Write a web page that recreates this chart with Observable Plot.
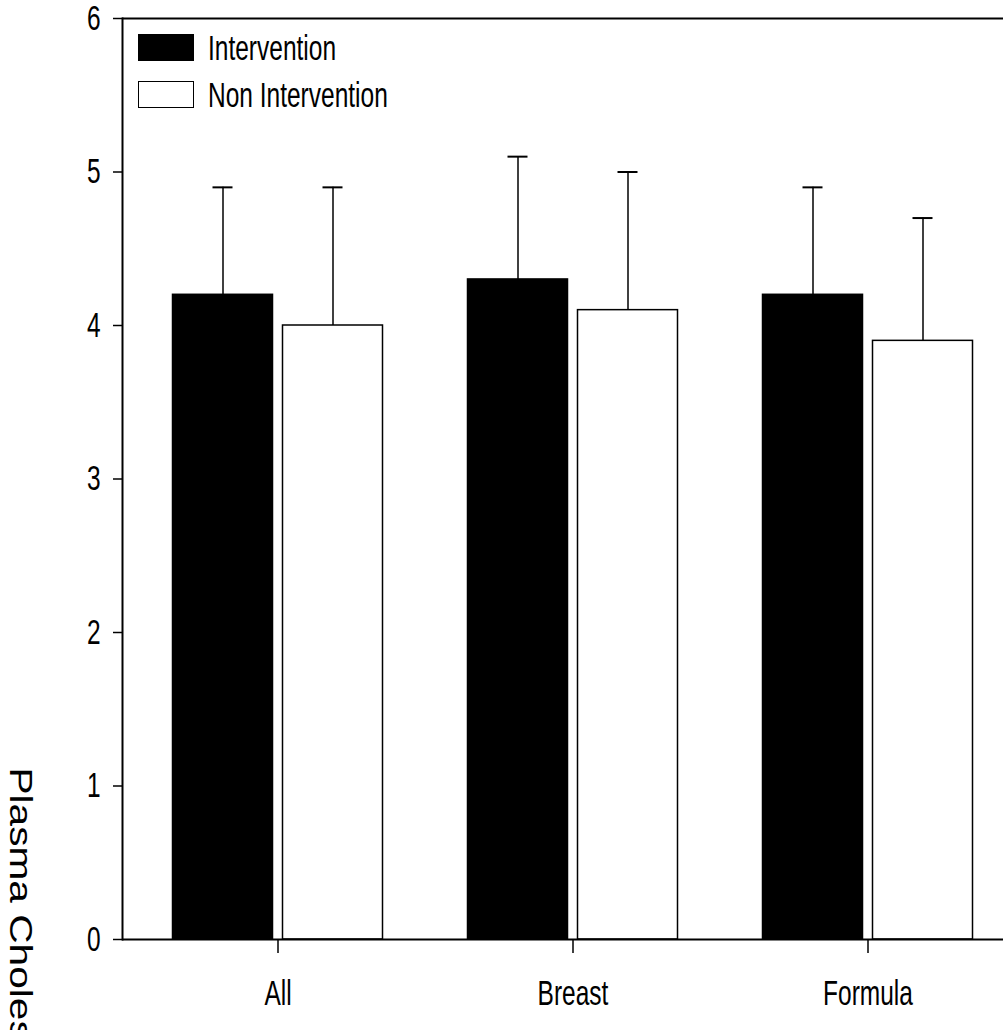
<!DOCTYPE html>
<html><head><meta charset="utf-8">
<script src="https://cdn.jsdelivr.net/npm/d3@7"></script>
<script src="https://cdn.jsdelivr.net/npm/@observablehq/plot@0.6"></script>
<style>
html,body{margin:0;padding:0;background:#fff;overflow:hidden}
#wrap{position:relative;width:1003px;height:1030px}
#legend{position:absolute;left:138px;top:34px;font-family:"Liberation Sans",Arial,sans-serif;font-size:35px;color:#000}
.row{display:flex;align-items:center;height:27px;margin-bottom:20px;white-space:nowrap}
.sw{width:56px;height:27px;box-sizing:border-box;border:1.5px solid #000;margin-right:14px;flex:none}
.lt{display:inline-block;transform-origin:left center;line-height:27px}
</style></head><body><div id="wrap"><div id="legend"></div></div>
<script>
const categories = ["All", "Breast", "Formula"];
const groups = ["Intervention", "Non Intervention"];
const interventionMeans = [4.2, 4.3, 4.2];
const interventionSD = [0.7, 0.8, 0.7];
const nonInterventionMeans = [4.0, 4.1, 3.9];
const nonInterventionSD = [0.9, 0.9, 0.8];
const yTicks = [0, 1, 2, 3, 4, 5, 6];
const yLabel = "Plasma Cholesterol (mmol/L)";
const groupFill = {"Intervention": "#000", "Non Intervention": "#fff"};

const data = [];
categories.forEach((c, i) => {
  data.push({category: c, group: groups[0], mean: interventionMeans[i], sd: interventionSD[i]});
  data.push({category: c, group: groups[1], mean: nonInterventionMeans[i], sd: nonInterventionSD[i]});
});
const dI = data.filter(d => d.group === groups[0]);
const dN = data.filter(d => d.group === groups[1]);

// layout within each category band
const band = 295, barW = 100, gap = 10, outer = (band - 2 * barW - gap) / 2, capW = 20;
const offI = outer + barW / 2, offN = outer + barW + gap + barW / 2;
const sans = '"Liberation Sans",Arial,sans-serif';
const condense = 0.70;   // horizontal squeeze to mimic a condensed face
const titleStretch = 1.27; // the axis title is drawn stretched along its run

const chart = Plot.plot({
  width: 1003, height: 1030,
  marginLeft: 122, marginRight: 0, marginTop: 18, marginBottom: 91,
  x: {domain: categories, range: [129.5, 129.5 + band * categories.length], padding: 0},
  y: {domain: [0, 6]},
  style: {fontFamily: sans, fontSize: "35px", background: "#fff", color: "#000", overflow: "visible"},
  marks: [
    Plot.barY(dI, {x: "category", y: "mean", fill: groupFill["Intervention"], stroke: "#000", strokeWidth: 1.5, insetLeft: outer, insetRight: band - outer - barW}),
    Plot.barY(dN, {x: "category", y: "mean", fill: groupFill["Non Intervention"], stroke: "#000", strokeWidth: 1.5, insetLeft: outer + barW + gap, insetRight: outer}),
    Plot.ruleX(dI, {x: "category", y1: "mean", y2: d => d.mean + d.sd, dx: offI - band / 2, stroke: "#000", strokeWidth: 1.5}),
    Plot.ruleX(dN, {x: "category", y1: "mean", y2: d => d.mean + d.sd, dx: offN - band / 2, stroke: "#000", strokeWidth: 1.5}),
    Plot.tickY(dI, {x: "category", y: d => d.mean + d.sd, insetLeft: offI - capW / 2, insetRight: band - offI - capW / 2, stroke: "#000", strokeWidth: 2}),
    Plot.tickY(dN, {x: "category", y: d => d.mean + d.sd, insetLeft: offN - capW / 2, insetRight: band - offN - capW / 2, stroke: "#000", strokeWidth: 2}),
    Plot.ruleY([0], {stroke: "#000", strokeWidth: 2}),
    Plot.ruleY([6], {stroke: "#000", strokeWidth: 2}),
    Plot.frame({anchor: "left", stroke: "#000", strokeWidth: 2}),
    Plot.axisY({ticks: yTicks, tickFormat: d => String(d), tickSize: 9, tickPadding: 13, label: null, stroke: "#000", strokeWidth: 1.5}),
    Plot.axisX({tickSize: 14, tickPadding: 27, label: null, stroke: "#000", strokeWidth: 1.5}),
    Plot.text([yLabel], {text: d => d, frameAnchor: "bottom-left", rotate: 90, textAnchor: "start", lineAnchor: "middle", dx: -101.8, dy: -172, fontFamily: sans, fontSize: 32, fill: "#000"})
  ]
});
chart.querySelectorAll('g[aria-label="y-axis tick label"] text, g[aria-label="x-axis tick label"] text').forEach(t => {
  const tr = t.getAttribute("transform") || "";
  t.setAttribute("transform", tr + ` scale(${condense},1)`);
});
const textGroups = chart.querySelectorAll('g[aria-label="text"]');
if (textGroups.length) {
  const t = textGroups[textGroups.length - 1].querySelector("text");
  if (t) t.setAttribute("transform", (t.getAttribute("transform") || "") + ` scale(${titleStretch},1)`);
}
const wrap = document.getElementById("wrap");
wrap.insertBefore(chart, wrap.firstChild);

const legend = document.getElementById("legend");
groups.forEach(g => {
  const row = document.createElement("div");
  row.className = "row";
  const sw = document.createElement("div");
  sw.className = "sw";
  sw.style.background = groupFill[g];
  const t = document.createElement("span");
  t.className = "lt";
  t.style.transform = `scaleX(${condense})`;
  t.textContent = g;
  row.appendChild(sw); row.appendChild(t);
  legend.appendChild(row);
});
</script></body></html>
